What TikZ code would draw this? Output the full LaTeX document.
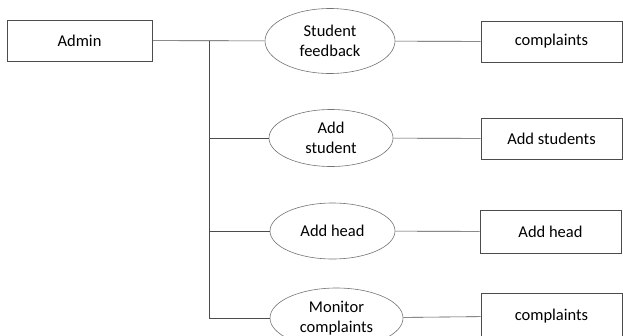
\documentclass[tikz,border=0pt]{standalone}
\usepackage{fontspec}
\setmainfont{Carlito}
\usetikzlibrary{shapes.geometric}
\tikzset{
  entity/.style={draw=black!70, line width=0.6pt, minimum width=141pt, minimum height=41pt, inner sep=0pt},
  usecase/.style={ellipse, draw=black!55, line width=0.6pt, inner sep=0pt, align=center},
  link/.style={draw=black!70, line width=0.6pt}
}
\begin{document}
\begin{tikzpicture}[x=1pt,y=-1pt,
      font=\fontsize{16.5}{20}\selectfont]
      \useasboundingbox (0,0) rectangle (623,335);
      \clip (0,0) rectangle (623,335);
      \node[entity, minimum width=145pt] (admin) at (79.5,40.5) {Admin};
      \node[usecase, minimum width=130pt, minimum height=65pt] (fb) at (330,41) {Student\\feedback};
      \node[usecase, minimum width=124pt, minimum height=57pt] (as) at (331,138) {Add\\student};
      \node[usecase, minimum width=125pt, minimum height=56pt] (ah) at (332.5,231) {Add head};
      \node[usecase, minimum width=133pt, minimum height=60pt] (mc) at (336.5,318) {Monitor\\complaints};
      \node[entity] (cp1) at (551.5,41.5) {complaints};
      \node[entity] (ast) at (551.5,138.5) {Add students};
      \node[entity, minimum height=43pt] (ahd) at (550.5,231.5) {Add head};
      \node[entity, minimum height=46pt] (cp2) at (551.5,316) {complaints};
      \coordinate (jn) at (209,40.5);
      % admin to use cases
      \draw[link] (admin) -- (fb);
      \draw[link] (jn) |- (as.west);
      \draw[link] (jn) |- (ah.west);
      \draw[link] (jn) |- (mc.west);
      % use cases to entities
      \draw[link] (fb) -- (cp1);
      \draw[link] (as) -- (ast);
      \draw[link] (ah) -- (ahd);
      \draw[link] (mc) -- (cp2);
\end{tikzpicture}
\end{document}
